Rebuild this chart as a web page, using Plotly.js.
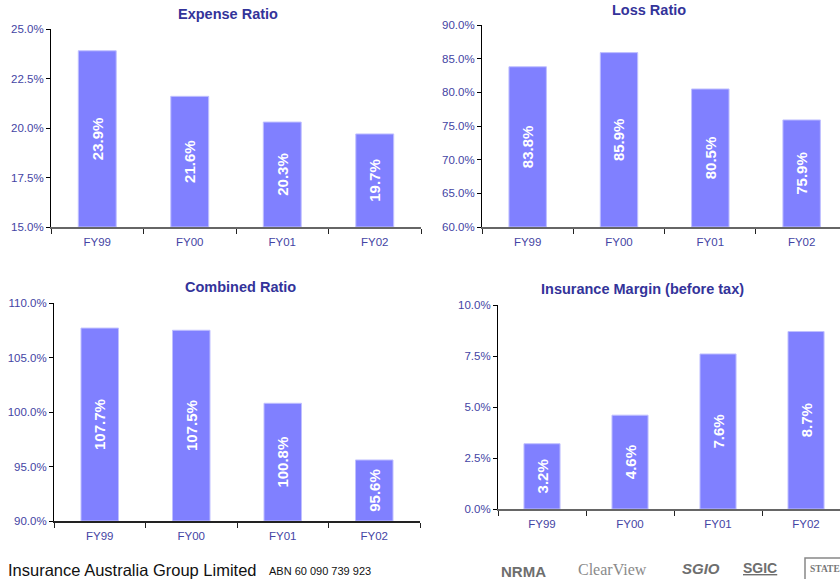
<!DOCTYPE html>
<html>
<head>
<meta charset="utf-8">
<script src="https://cdn.plot.ly/plotly-3.0.1.min.js"></script>
<style>html,body{margin:0;padding:0;background:#fff;}#chart{width:840px;height:579px;}</style>
</head>
<body>
<div id="chart"></div>
<script>
// ---- data ----
const categories = ["FY99", "FY00", "FY01", "FY02"];
const expenseRatio = [23.9, 21.6, 20.3, 19.7];
const lossRatio = [83.8, 85.9, 80.5, 75.9];
const combinedRatio = [107.7, 107.5, 100.8, 95.6];
const insuranceMargin = [3.2, 4.6, 7.6, 8.7];
const panelTitles = ["Expense Ratio", "Loss Ratio", "Combined Ratio", "Insurance Margin (before tax)"];
const yRanges = [[15, 25], [60, 90], [90, 110], [0, 10]];
const yDticks = [2.5, 5, 5, 2.5];

const W = 840, H = 579;
const FONT = "Liberation Sans, Arial, sans-serif";
const TICKCOL = "#4444a4";
const TITLECOL = "#33339a";
const BARCOL = "#8080ff";

// panel geometry (pixels)
const panels = [
  {x0: 51, x1: 421, top: 29, bottom: 227, xr: [-0.5, 3.5], xline: "#666666"},
  {x0: 482, x1: 840, top: 25, bottom: 227, xr: [-0.5, 3.42], xline: "#666666"},
  {x0: 54, x1: 420, top: 303, bottom: 521, xr: [-0.5, 3.5], xline: "#222222"},
  {x0: 498, x1: 840, top: 305, bottom: 509, xr: [-0.5, 3.386], xline: "#666666"}
];
const titlePos = [[228, 14], [649, 10], [240, 287], [642, 289]];

const series = [expenseRatio, lossRatio, combinedRatio, insuranceMargin];
const traces = [];
const layout = {
  width: W, height: H,
  margin: {l: 0, r: 0, t: 0, b: 0},
  paper_bgcolor: "#ffffff", plot_bgcolor: "rgba(0,0,0,0)",
  showlegend: false,
  bargap: 0.59,
  font: {family: FONT},
  annotations: [], shapes: []
};

series.forEach((vals, i) => {
  const p = panels[i];
  const n = i === 0 ? "" : String(i + 1);
  const base = yRanges[i][0];
  traces.push({
    type: "bar",
    x: categories,
    y: vals.map(v => v - base),
    base: base,
    text: vals.map(v => v.toFixed(1) + "%"),
    textposition: "inside",
    insidetextanchor: "middle",
    textangle: -90,
    constraintext: "none",
    textfont: {family: FONT, size: 15, color: "#ffffff", weight: "bold"},
    marker: {color: BARCOL, line: {color: "#c0c0ff", width: 1}},
    xaxis: "x" + n, yaxis: "y" + n,
    hoverinfo: "skip"
  });
  layout["xaxis" + n] = {
    domain: [p.x0 / W, p.x1 / W],
    anchor: "y" + n,
    type: "category",
    range: p.xr,
    showgrid: false, zeroline: false,
    showline: true, linecolor: p.xline, linewidth: 2,
    ticks: "outside", tickson: "boundaries", ticklen: 5, tickcolor: "#222222", tickwidth: 1,
    ticklabelstandoff: 3,
    tickfont: {family: FONT, size: 11.5, color: TICKCOL},
    fixedrange: true
  };
  layout["yaxis" + n] = {
    domain: [1 - p.bottom / H, 1 - p.top / H],
    anchor: "x" + n,
    range: yRanges[i],
    dtick: yDticks[i], tick0: 0,
    tickformat: ".1f", ticksuffix: "%",
    showgrid: false, zeroline: false,
    showline: true, linecolor: "#000000", linewidth: 1,
    ticks: "outside", ticklen: 4, tickcolor: "#000000",
    tickfont: {family: FONT, size: 11.5, color: TICKCOL},
    fixedrange: true
  };
  layout.annotations.push({
    xref: "paper", yref: "paper",
    x: titlePos[i][0] / W, y: 1 - titlePos[i][1] / H,
    xanchor: "center", yanchor: "middle",
    text: "<b>" + panelTitles[i] + "</b>",
    showarrow: false,
    font: {family: FONT, size: 14.5, color: TITLECOL}
  });
});

// footer
function ann(text, px, py, size, color, family, anchor) {
  layout.annotations.push({
    xref: "paper", yref: "paper", x: px / W, y: 1 - py / H,
    xanchor: anchor || "left", yanchor: "middle",
    text: text, showarrow: false,
    font: {family: family || FONT, size: size, color: color}
  });
}
ann("Insurance Australia Group Limited", 6, 570, 16.5, "#111111");
ann("ABN 60 090 739 923", 267, 571, 11, "#111111");
ann("<b>NRMA</b>", 523, 571, 15, "#6e6e6e", FONT, "center");
ann("ClearView", 612, 569, 16, "#8a8a8a", "Liberation Serif, serif", "center");
ann("<b><i>SGIO</i></b>", 701, 568, 15, "#6e6e6e", FONT, "center");
ann("<b><u>SGIC</u></b>", 760, 568, 14, "#6e6e6e", FONT, "center");
ann("<b>STATE</b>", 808, 569, 9.5, "#777777", "Liberation Serif, serif", "left");
layout.shapes.push({
  type: "rect", xref: "paper", yref: "paper",
  x0: 805 / W, x1: 850 / W, y0: 1 - 580 / H, y1: 1 - 558 / H,
  line: {color: "#888888", width: 1.5}
});

Plotly.newPlot("chart", traces, layout, {displayModeBar: false, staticPlot: true});
</script>
</body>
</html>
